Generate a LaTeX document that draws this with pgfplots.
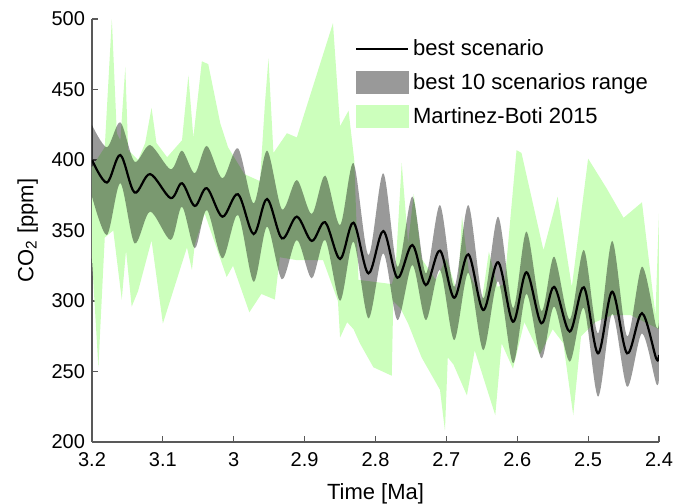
\documentclass[border=0pt]{standalone}
\usepackage{fontspec}
\setmainfont{Liberation Sans}
\usepackage{pgfplots}
\pgfplotsset{compat=1.18}
\usepgfplotslibrary{fillbetween}
\definecolor{mbgreen}{RGB}{204,255,188}
\begin{document}
\begin{tikzpicture}
\begin{axis}[
  width=283.5pt, height=211.5pt, scale only axis,
  at={(0,0)}, anchor=south west,
  x dir=reverse, xmin=2.4, xmax=3.2, ymin=200, ymax=500,
  axis x line*=bottom, axis y line*=left,
  xtick={2.4,2.5,2.6,2.7,2.8,2.9,3.0,3.1,3.2},
  xticklabels={2.4,2.5,2.6,2.7,2.8,2.9,3,3.1,3.2},
  ytick={200,250,300,350,400,450,500},
  yticklabels={200,250,300,350,400,450,500},
  tick align=inside, major tick length=3pt,
  axis line style={-, black!65, line width=0.6pt},
  every outer x axis line/.append style={-},
  every outer y axis line/.append style={-},
  tick style={black!65, line width=0.6pt},
  ticklabel style={font=\fontsize{10}{12}\selectfont},
  xticklabel style={yshift=-1.5pt},
  xlabel={Time [Ma]}, ylabel={CO\textsubscript{2} [ppm]},
  label style={font=\fontsize{11}{13}\selectfont},
  xlabel style={yshift=-2pt},
  legend style={at={(0.463,0.962)}, anchor=north west, draw=none, fill=none,
    font=\fontsize{11}{13}\selectfont, row sep=3.5pt, inner sep=0pt},
  legend cell align=left,
]
\addlegendimage{legend image code/.code={\draw[black, line width=1.1pt] (0pt,0pt) -- (26pt,0pt);}}
\addlegendentry{best scenario}
\addlegendimage{legend image code/.code={\fill[black!40] (0pt,-5.5pt) rectangle (26pt,5.5pt);}}
\addlegendentry{best 10 scenarios range}
\addlegendimage{legend image code/.code={\fill[mbgreen] (0pt,-5.5pt) rectangle (26pt,5.5pt);}}
\addlegendentry{Martinez-Boti 2015}

% Martinez-Boti 2015 envelope
\addplot[name path=gu, draw=none, forget plot] coordinates {
(3.200,395) (3.182,409) (3.172,500) (3.165,419) (3.160,414) (3.153,466) (3.149,407)
(3.135,400) (3.125,412) (3.116,437) (3.109,412) (3.094,402) (3.073,414) (3.064,460)
(3.057,416) (3.045,470) (3.036,468) (3.019,426) (3.008,409) (2.985,390) (2.963,385)
(2.956,440) (2.951,472) (2.944,405) (2.925,419) (2.911,416) (2.860,497) (2.850,424)
(2.838,435) (2.830,400) (2.824,315) (2.777,312) (2.772,320) (2.763,398) (2.754,341)
(2.746,376) (2.735,330) (2.715,315) (2.700,330) (2.684,305) (2.678,360) (2.668,320)
(2.650,300) (2.640,335) (2.628,310) (2.618,312) (2.601,407) (2.594,405) (2.563,336)
(2.543,374) (2.523,310) (2.500,401) (2.474,380) (2.450,359) (2.424,370) (2.405,290)
(2.400,362)
};
\addplot[name path=gl, draw=none, forget plot] coordinates {
(3.200,330) (3.191,253) (3.182,345) (3.170,350) (3.158,301) (3.152,336) (3.144,296)
(3.135,307) (3.116,343) (3.100,284) (3.066,338) (3.059,322) (3.055,340) (3.041,362)
(3.010,317) (3.001,325) (2.978,292) (2.961,305) (2.942,301) (2.935,331) (2.911,329)
(2.874,329) (2.853,300) (2.850,274) (2.840,285) (2.831,280) (2.822,270) (2.803,253)
(2.777,247) (2.775,300) (2.765,295) (2.754,284) (2.735,260) (2.709,237) (2.702,208)
(2.698,260) (2.690,255) (2.671,233) (2.660,265) (2.631,219) (2.622,270) (2.606,252)
(2.590,285) (2.568,262) (2.550,280) (2.535,270) (2.521,219) (2.510,275) (2.490,285)
(2.466,290) (2.440,290) (2.420,285) (2.400,280)
};
\addplot[mbgreen, forget plot] fill between[of=gu and gl];

% best 10 scenarios range
\addplot[name path=ru, draw=none, smooth, tension=0.5, forget plot] coordinates {
(3.200,424.8) (3.179,409) (3.160,426.7) (3.140,398.8) (3.118,410.6) (3.089,393.4)
(3.073,406.6) (3.055,390.6) (3.038,410) (3.016,387) (2.994,408.3) (2.972,369.3)
(2.953,406.6) (2.932,365) (2.911,385.8) (2.890,361.7) (2.871,388.9) (2.850,353.9)
(2.831,397.7) (2.810,332.6) (2.789,390.6) (2.769,324.3) (2.748,374) (2.729,319.6)
(2.709,368) (2.689,310) (2.669,368) (2.648,301.9) (2.627,359.8) (2.606,295)
(2.587,349.2) (2.566,293) (2.548,331.4) (2.526,287) (2.506,336.2) (2.486,277)
(2.466,342.6) (2.445,275) (2.424,324.3) (2.404,282) (2.400,286.5)
};
\addplot[name path=rl, draw=none, smooth, tension=0.5, forget plot] coordinates {
(3.200,374) (3.179,346.8) (3.160,383.5) (3.140,340.9) (3.118,363.4) (3.089,343.3)
(3.073,366.9) (3.055,337.4) (3.038,364.5) (3.016,330.3) (2.994,361) (2.972,313.7)
(2.953,352.7) (2.932,315.4) (2.911,343.3) (2.890,316.1) (2.871,343.3) (2.850,300.2)
(2.831,342) (2.810,287.7) (2.789,333.8) (2.769,286.5) (2.748,325.5) (2.729,286.5)
(2.709,322) (2.689,272.3) (2.669,320) (2.648,265.2) (2.627,314) (2.606,256)
(2.587,305) (2.566,259.4) (2.548,296) (2.526,257) (2.506,295) (2.486,232.2)
(2.466,291) (2.445,239.2) (2.424,277) (2.404,241.6) (2.400,245)
};
\addplot[black, fill opacity=0.4, draw=none, forget plot] fill between[of=ru and rl];

% best scenario
\addplot[black, line width=1.1pt, smooth, tension=0.55, forget plot] coordinates {
(3.200,400.0) (3.179,384.0) (3.160,403.5) (3.140,377.0) (3.118,390.0) (3.089,373.0)
(3.073,383.5) (3.055,367.4) (3.038,380.0) (3.016,359.8) (2.994,375.7) (2.972,347.5)
(2.953,372.3) (2.932,344.4) (2.911,359.8) (2.890,342.6) (2.871,355.8) (2.850,329.8)
(2.831,355.5) (2.810,319.6) (2.789,349.6) (2.769,316.5) (2.748,339.7) (2.729,311.3)
(2.709,335.7) (2.689,302.3) (2.669,333.1) (2.648,293.6) (2.627,327.5) (2.606,285.3)
(2.587,320.4) (2.566,284.2) (2.548,310.0) (2.526,278.3) (2.506,309.7) (2.486,262.9)
(2.466,306.6) (2.445,262.9) (2.424,291.3) (2.404,259.4) (2.400,261.7)
};
\end{axis}
\pgfresetboundingbox
\path[use as bounding box] (-46pt,-31pt) rectangle (292pt,221pt);
\end{tikzpicture}
\end{document}
